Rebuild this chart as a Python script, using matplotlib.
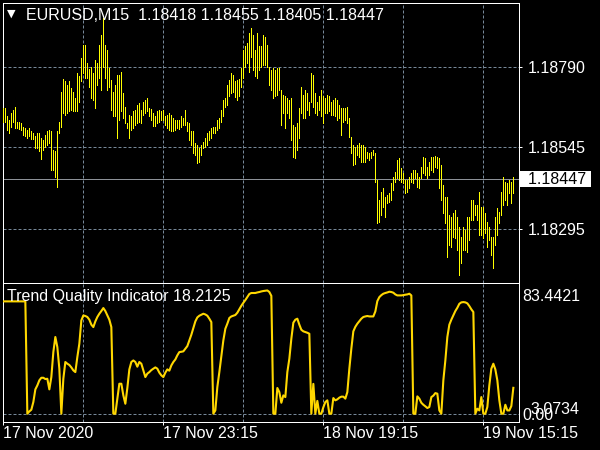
import numpy as np
import matplotlib
matplotlib.use('Agg')
from matplotlib import pyplot as plt
from matplotlib import transforms

# EURUSD M15 bars, 17 Nov 2020 03:15 onwards (high / low per bar)
high = [1.18664, 1.18664, 1.18641, 1.18628, 1.18649, 1.18659, 1.18667, 1.18623, 1.18623, 1.18620,
        1.18608, 1.18603, 1.18598, 1.18603, 1.18593, 1.18588, 1.18580, 1.18588, 1.18588, 1.18572,
        1.18567, 1.18583, 1.18593, 1.18596, 1.18593, 1.18537, 1.18532, 1.18593, 1.18623, 1.18715,
        1.18753, 1.18746, 1.18735, 1.18746, 1.18725, 1.18715, 1.18695, 1.18771, 1.18761, 1.18817,
        1.18858, 1.18858, 1.18802, 1.18783, 1.18791, 1.18771, 1.18812, 1.18802, 1.18858, 1.18888,
        1.18939, 1.18858, 1.18842, 1.18786, 1.18751, 1.18715, 1.18735, 1.18766, 1.18766, 1.18776,
        1.18710, 1.18669, 1.18618, 1.18644, 1.18639, 1.18654, 1.18659, 1.18674, 1.18679, 1.18659,
        1.18684, 1.18690, 1.18695, 1.18664, 1.18661, 1.18649, 1.18639, 1.18654, 1.18659, 1.18654,
        1.18659, 1.18639, 1.18644, 1.18649, 1.18644, 1.18634, 1.18628, 1.18628, 1.18628, 1.18639,
        1.18634, 1.18659, 1.18623, 1.18618, 1.18593, 1.18593, 1.18557, 1.18552, 1.18542, 1.18552,
        1.18562, 1.18572, 1.18588, 1.18593, 1.18603, 1.18608, 1.18608, 1.18628, 1.18634, 1.18659,
        1.18690, 1.18695, 1.18735, 1.18751, 1.18771, 1.18766, 1.18746, 1.18749, 1.18753, 1.18786,
        1.18842, 1.18853, 1.18863, 1.18893, 1.18909, 1.18888, 1.18842, 1.18893, 1.18853, 1.18853,
        1.18888, 1.18883, 1.18858, 1.18791, 1.18781, 1.18786, 1.18781, 1.18786, 1.18786, 1.18720,
        1.18705, 1.18700, 1.18695, 1.18690, 1.18695, 1.18613, 1.18608, 1.18618, 1.18664, 1.18730,
        1.18705, 1.18720, 1.18710, 1.18684, 1.18771, 1.18766, 1.18710, 1.18684, 1.18700, 1.18720,
        1.18700, 1.18695, 1.18705, 1.18700, 1.18684, 1.18690, 1.18695, 1.18690, 1.18674, 1.18664,
        1.18664, 1.18664, 1.18669, 1.18633, 1.18577, 1.18551, 1.18546, 1.18551, 1.18557, 1.18551,
        1.18551, 1.18546, 1.18531, 1.18526, 1.18531, 1.18536, 1.18526, 1.18445, 1.18383, 1.18409,
        1.18419, 1.18394, 1.18399, 1.18404, 1.18434, 1.18455, 1.18470, 1.18506, 1.18511, 1.18480,
        1.18465, 1.18445, 1.18445, 1.18455, 1.18465, 1.18475, 1.18475, 1.18465, 1.18455, 1.18485,
        1.18516, 1.18511, 1.18485, 1.18501, 1.18516, 1.18516, 1.18518, 1.18516, 1.18511, 1.18490,
        1.18429, 1.18394, 1.18394, 1.18338, 1.18333, 1.18343, 1.18353, 1.18333, 1.18302, 1.18271,
        1.18302, 1.18292, 1.18333, 1.18333, 1.18383, 1.18383, 1.18368, 1.18368, 1.18409, 1.18363,
        1.18363, 1.18343, 1.18317, 1.18302, 1.18271, 1.18271, 1.18333, 1.18358, 1.18348, 1.18409,
        1.18455, 1.18439, 1.18434, 1.18445, 1.18439, 1.18455]
low = [1.18623, 1.18623, 1.18598, 1.18588, 1.18608, 1.18623, 1.18603, 1.18603, 1.18600, 1.18598,
       1.18583, 1.18578, 1.18572, 1.18578, 1.18569, 1.18569, 1.18542, 1.18542, 1.18532, 1.18508,
       1.18537, 1.18547, 1.18552, 1.18557, 1.18476, 1.18476, 1.18455, 1.18423, 1.18588, 1.18608,
       1.18649, 1.18644, 1.18649, 1.18654, 1.18659, 1.18654, 1.18654, 1.18654, 1.18684, 1.18746,
       1.18771, 1.18756, 1.18756, 1.18730, 1.18695, 1.18690, 1.18664, 1.18735, 1.18756, 1.18720,
       1.18791, 1.18756, 1.18720, 1.18730, 1.18659, 1.18639, 1.18639, 1.18572, 1.18628, 1.18654,
       1.18634, 1.18618, 1.18603, 1.18572, 1.18598, 1.18603, 1.18613, 1.18618, 1.18623, 1.18618,
       1.18644, 1.18649, 1.18654, 1.18639, 1.18628, 1.18610, 1.18610, 1.18618, 1.18623, 1.18628,
       1.18628, 1.18613, 1.18603, 1.18598, 1.18593, 1.18593, 1.18598, 1.18603, 1.18600, 1.18608,
       1.18613, 1.18613, 1.18593, 1.18567, 1.18552, 1.18527, 1.18521, 1.18498, 1.18501, 1.18521,
       1.18542, 1.18547, 1.18552, 1.18567, 1.18572, 1.18588, 1.18588, 1.18598, 1.18603, 1.18623,
       1.18639, 1.18667, 1.18674, 1.18700, 1.18710, 1.18715, 1.18698, 1.18690, 1.18700, 1.18730,
       1.18756, 1.18791, 1.18802, 1.18776, 1.18822, 1.18781, 1.18761, 1.18756, 1.18781, 1.18791,
       1.18796, 1.18796, 1.18791, 1.18735, 1.18720, 1.18695, 1.18700, 1.18705, 1.18720, 1.18613,
       1.18649, 1.18603, 1.18649, 1.18634, 1.18567, 1.18516, 1.18511, 1.18537, 1.18572, 1.18649,
       1.18634, 1.18634, 1.18659, 1.18644, 1.18684, 1.18669, 1.18649, 1.18644, 1.18659, 1.18639,
       1.18618, 1.18649, 1.18649, 1.18654, 1.18644, 1.18644, 1.18639, 1.18628, 1.18634, 1.18583,
       1.18623, 1.18628, 1.18618, 1.18577, 1.18526, 1.18490, 1.18495, 1.18521, 1.18516, 1.18501,
       1.18501, 1.18501, 1.18511, 1.18506, 1.18511, 1.18521, 1.18439, 1.18312, 1.18317, 1.18338,
       1.18363, 1.18333, 1.18373, 1.18378, 1.18383, 1.18414, 1.18439, 1.18450, 1.18445, 1.18439,
       1.18434, 1.18404, 1.18409, 1.18419, 1.18439, 1.18434, 1.18450, 1.18424, 1.18419, 1.18450,
       1.18465, 1.18460, 1.18450, 1.18460, 1.18475, 1.18470, 1.18485, 1.18480, 1.18419, 1.18383,
       1.18343, 1.18312, 1.18210, 1.18246, 1.18241, 1.18271, 1.18266, 1.18231, 1.18154, 1.18190,
       1.18231, 1.18231, 1.18226, 1.18261, 1.18322, 1.18322, 1.18338, 1.18322, 1.18276, 1.18276,
       1.18266, 1.18282, 1.18241, 1.18261, 1.18215, 1.18175, 1.18246, 1.18276, 1.18312, 1.18338,
       1.18368, 1.18383, 1.18368, 1.18404, 1.18373, 1.18404]

# Trend Quality Indicator, one value per bar
tqi = [79.1] * 12 + [
    0.0, 1.6, 2.8, 8.2, 17.1, 19.9, 23.5, 25.3, 25.3, 24.4, 24.6, 17.1, 25.8, 43.4, 54.0, 46.9, 31.7, 0.0,
    24.6, 36.4, 35.2, 34.3, 32.6, 30.5, 29.3, 39.9, 49.3, 65.7, 69.2, 68.8, 68.1, 66.2, 62.7, 61.0,
    65.0, 68.1, 70.4, 72.3, 74.4, 72.3, 69.2, 66.2, 61.0, 0.0, 0.0, 10.6, 21.1, 21.1, 12.9, 7.0,
    18.1, 31.2, 36.4, 37.5, 36.4, 33.1, 36.4, 35.2, 30.5, 25.8, 28.2, 29.3, 30.7, 31.7, 32.6, 31.7,
    28.9, 27.0, 25.8, 28.9, 31.2, 30.3, 34.0, 36.4,
    38.2, 41.1, 43.4, 43.6, 43.9, 45.8, 47.6, 51.6, 55.6, 60.3, 65.0, 67.8, 69.0, 69.7, 70.4, 69.9,
    69.0, 66.9, 64.5, 0.0, 2.3, 18.8, 29.3, 40.6, 51.6, 59.8, 63.4, 67.4, 68.5, 69.0, 69.5, 71.1,
    73.5, 76.0, 78.1, 80.0, 82.1, 84.3, 85.0, 85.0, 85.0, 85.4, 85.7, 86.1, 86.4, 86.6, 86.8, 85.7,
    83.0, 0.0, 0.0, 18.1, 15.2, 7.7, 12.9, 11.7, 29.3, 38.7, 52.8, 64.1, 66.2, 66.9, 62.7, 59.1,
    58.0, 57.5, 57.0, 56.3, 0.0, 21.0, 0.0, 9.0, 0.0, 0.0, 4.5, 8.2, 9.4, 0.0, 0.0, 11.0,
    9.4, 10.1, 11.3, 12.0,
    12.0, 10.6, 15.2, 31.7, 45.8, 58.0, 61.2, 63.4, 65.2, 66.9, 68.1, 68.5, 68.8, 68.5, 68.5, 68.5,
    72.0, 79.3, 82.1, 83.5, 84.5, 85.0, 85.4, 85.9, 85.7, 85.2, 84.0, 83.3, 83.3, 83.3, 83.5, 83.8,
    84.0, 84.5, 83.3, 0.0, 0.0, 12.2, 10.6, 7.7, 6.3, 5.2, 4.0, 4.7, 11.7, 12.7, 14.5, 14.1,
    2.3, 0.0, 23.5, 37.5, 54.0, 62.7, 66.2, 69.2, 72.3, 74.6, 77.4, 78.4, 78.6, 78.4, 77.7, 75.8,
    73.5, 71.6, 0.0, 3.5, 2.3, 11.7, 0.0, 0.0, 4.7, 20.0, 31.7, 35.2, 31.2, 23.5, 9.4, 0.0,
    0.0, 6.3, 2.3, 2.3, 5.4, 18.2125]

price_levels = [1.18790, 1.18545, 1.18295]
last_close = 1.18447
header = "EURUSD,M15  1.18418 1.18455 1.18405 1.18447"
tqi_levels = [83.4421, 0.0]
tqi_labels = ["83.4421", "0.00"]
tqi_extra = 3.0734
time_ticks = [0, 80, 160, 240]
time_labels = ["17 Nov 2020", "17 Nov 23:15", "18 Nov 19:15", "19 Nov 15:15"]
grid_bars = [40, 80, 120, 160, 200, 240]

idx = np.arange(len(high))
FONT = 'Liberation Sans'
FS = 11.5
GRID = '#778899'
DASH = (0, (3, 2))
PX = 0.72

W, H = 600, 450
fig = plt.figure(figsize=(6, 4.5), dpi=100, facecolor='black')
ax1 = fig.add_axes([2.5 / W, 1 - 283 / H, 516 / W, 280.5 / H])
ax2 = fig.add_axes([2.5 / W, 1 - 422 / H, 516 / W, 139 / H])

for ax in (ax1, ax2):
    ax.set_facecolor('black')
    ax.set_xlim(-0.42, 257.58)
    for s in ax.spines.values():
        s.set_color('white')
        s.set_linewidth(PX)
    for b in grid_bars:
        ax.axvline(b, color=GRID, lw=PX, ls=DASH, zorder=1)

# price panel
ax1.set_ylim(1.18130, 1.18987)
for lv in price_levels:
    ax1.axhline(lv, color=GRID, lw=PX, ls=DASH, zorder=1)
ax1.axhline(last_close, color='#8c9198', lw=PX, zorder=1)
ax1.vlines(idx, low, high, color='#ffff00', lw=PX, antialiased=False, zorder=3)
ax1.set_xticks([])
ax1.yaxis.tick_right()
ax1.set_yticks(price_levels)
ax1.set_yticklabels([f"{v:.5f}" for v in price_levels])
ax1.tick_params(axis='y', colors='white', length=2.2, width=PX, pad=4.5, labelsize=FS)
for lab in ax1.get_yticklabels():
    lab.set_family(FONT)
trans1 = transforms.blended_transform_factory(ax1.transAxes, ax1.transData)
ax1.text(1.0 + 0.5 / 516, last_close, f"  {last_close:.5f} ", transform=trans1, ha='left', va='center',
         color='black', fontsize=FS, family=FONT,
         bbox=dict(boxstyle='square,pad=0.03', fc='white', ec='none'))

# indicator panel
ax2.set_ylim(-5.85, 92.04)
ax2.axhline(0, color=GRID, lw=PX, ls=DASH, zorder=1)
ax2.plot(idx, tqi, color='#ffd700', lw=1.5, zorder=3)
ax2.yaxis.tick_right()
ax2.set_yticks(tqi_levels)
ax2.set_yticklabels(tqi_labels)
ax2.tick_params(axis='y', colors='white', length=0, pad=2.5, labelsize=FS)
trans2 = transforms.blended_transform_factory(ax2.transAxes, ax2.transData)
ax2.text(1.0 + 11.5 / 516, tqi_extra, f"{tqi_extra:.4f}", transform=trans2, ha='left', va='center',
         color='white', fontsize=FS, family=FONT)
ax2.set_xticks(time_ticks)
ax2.set_xticklabels(time_labels)
ax2.tick_params(axis='x', colors='white', length=2.5, width=PX, pad=0.5, labelsize=FS)
for lab in ax2.get_xticklabels() + ax2.get_yticklabels():
    lab.set_family(FONT)
for lab in ax2.get_xticklabels():
    lab.set_ha('left')

# header texts
fig.text(11.5 / W, 1 - 14 / H, '\u25bc', ha='center', va='center', color='white', fontsize=8,
         family='DejaVu Sans')
fig.text(26 / W, 1 - 15 / H, header, ha='left', va='center', color='white', fontsize=FS, family=FONT)
fig.text(7 / W, 1 - 297 / H, f"Trend Quality Indicator {tqi[-1]:.4f}", ha='left', va='center',
         color='white', fontsize=FS, family=FONT, zorder=5)

fig.savefig('out.png', dpi=100, facecolor='black')
